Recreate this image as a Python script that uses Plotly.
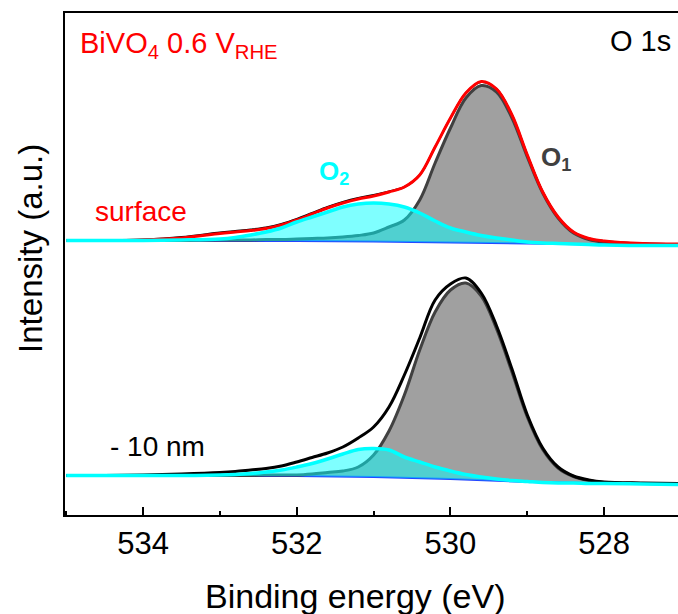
import plotly.graph_objects as go

# ---- data (binding energy in eV, intensity in a.u.) ----
energy = [535.0, 534.5, 534.0, 533.5, 533.0, 532.8, 532.6, 532.4, 532.2, 532.0,
          531.8, 531.6, 531.4, 531.2, 531.0, 530.8, 530.6, 530.4, 530.2, 530.0,
          529.8, 529.6, 529.4, 529.2, 529.0, 528.8, 528.6, 528.4, 528.2, 528.0,
          527.5, 527.0]

# surface spectrum (offset upward)
surface_raw = [274.5, 274.5, 275.5, 278, 282.5, 284, 285.5, 287.5, 291, 296,
               302, 308, 313, 317, 320, 323.5, 328, 340, 368, 397,
               422, 433, 426, 400, 360, 323, 298, 283, 276.5, 274,
               271.5, 271]
surface_envelope = [274.5, 274.5, 275, 277, 281.5, 283, 284.5, 286.5, 290, 295,
                    301, 307, 312, 316, 319, 323, 328, 340, 368, 397,
                    422, 433.5, 426, 400, 360, 323, 298, 283, 276.5, 274,
                    271.5, 271]
surface_o1 = [274.5, 274.5, 274.5, 274.5, 275, 275, 275, 275.5, 275.5, 276,
              276.5, 277, 278, 279.5, 282, 288, 295, 315, 352, 387,
              417, 429.5, 423, 397, 358, 322, 297, 282, 275.5, 273,
              271, 270.5]
surface_o2 = [274.5, 274.5, 274.5, 275, 276, 277.5, 280, 283, 287, 293,
              298, 303, 308, 311, 312, 311, 308, 302, 294, 287,
              283, 279.5, 277, 275, 273, 272, 271.5, 271, 270.5, 270,
              269.5, 269.5]

# -10 nm spectrum
depth_envelope = [39.5, 39.5, 40, 41, 42.5, 43.5, 45, 46.5, 49, 53,
                  57.5, 62, 68, 77, 88, 108, 140, 177, 215, 231,
                  237, 222, 189, 146, 100, 67, 48, 39, 35, 33,
                  32, 31.5]
depth_o1 = [39.5, 39.5, 39.5, 39.5, 39.5, 39.5, 39.5, 40, 40, 40,
            41, 42.5, 44, 48, 60, 84, 120, 165, 203, 225,
            232, 219, 186, 143, 98, 65.5, 47, 38.5, 34.5, 32.5,
            31.5, 31]
depth_o2 = [39.5, 39.5, 39.5, 39.5, 40, 40.5, 41.5, 43, 45, 48,
            51.5, 56, 61, 65.5, 66.5, 65, 58, 53, 48, 44,
            40.5, 38, 36, 34.5, 33.5, 32.5, 32, 32, 31.5, 31.5,
            31, 30.5]

background_energy = [535.0, 533.0, 532.0, 531.0, 530.0, 529.0, 528.0, 527.0]
surface_background = [274.5, 274.5, 274, 273.5, 272.5, 271, 270, 269.5]
depth_background = [39.5, 39.5, 39, 38, 36, 33, 31.5, 30.5]

x_ticks = [534, 532, 530, 528]
x_minor_ticks = [535, 533, 531, 529, 527]

FONT = "Liberation Sans, Arial, sans-serif"
RED = "#ff0000"
CYAN = "#00ffff"
GRAYFILL = "#a0a0a0"
GRAYLINE = "#404040"
BLUE = "#2446ff"

fig = go.Figure()


def add_panel(bg, o1, o2, envelope, env_color, raw=None):
    # background line (reference for fills)
    fig.add_trace(go.Scatter(x=background_energy, y=bg, mode="lines",
                             line=dict(color=BLUE, width=2), hoverinfo="skip"))
    fig.add_trace(go.Scatter(x=energy, y=o1, mode="lines", fill="tonexty",
                             fillcolor=GRAYFILL, line=dict(color=GRAYLINE, width=3, shape="spline"),
                             hoverinfo="skip"))
    fig.add_trace(go.Scatter(x=background_energy, y=bg, mode="lines",
                             line=dict(color="rgba(0,0,0,0)", width=0), hoverinfo="skip"))
    fig.add_trace(go.Scatter(x=energy, y=o2, mode="lines", fill="tonexty",
                             fillcolor="rgba(0,255,255,0.5)",
                             line=dict(color="rgba(0,0,0,0)", width=0, shape="spline"), hoverinfo="skip"))
    if raw is not None:
        fig.add_trace(go.Scatter(x=energy, y=raw, mode="lines",
                                 line=dict(color="#000000", width=2, shape="spline"), hoverinfo="skip"))
    fig.add_trace(go.Scatter(x=energy, y=envelope, mode="lines",
                             line=dict(color=env_color, width=3, shape="spline"), hoverinfo="skip"))
    # O2 component outline drawn on top
    fig.add_trace(go.Scatter(x=energy, y=o2, mode="lines",
                             line=dict(color=CYAN, width=3.5, shape="spline"), hoverinfo="skip"))


add_panel(surface_background, surface_o1, surface_o2, surface_envelope, RED, raw=surface_raw)
add_panel(depth_background, depth_o1, depth_o2, depth_envelope, "#000000")

annotations = [
    dict(x=534.85, y=470, xref="x", yref="y", xanchor="left", yanchor="middle",
         text="BiVO<sub>4</sub> 0.6 V<sub>RHE</sub>", font=dict(size=29, color=RED, family=FONT),
         showarrow=False),
    dict(x=527.106, y=474, xref="x", yref="y", xanchor="right", yanchor="middle",
         text="O 1s", font=dict(size=29, color="#000000", family=FONT), showarrow=False),
    dict(x=534.65, y=304, xref="x", yref="y", xanchor="left", yanchor="middle",
         text="surface", font=dict(size=28, color=RED, family=FONT), showarrow=False),
    dict(x=534.455, y=69, xref="x", yref="y", xanchor="left", yanchor="middle",
         text="- 10 nm", font=dict(size=28, color="#000000", family=FONT), showarrow=False),
    dict(x=531.737, y=343, xref="x", yref="y", xanchor="left", yanchor="middle",
         text="<b>O<sub>2</sub></b>", font=dict(size=26, color=CYAN, family=FONT), showarrow=False),
    dict(x=528.849, y=357, xref="x", yref="y", xanchor="left", yanchor="middle",
         text="<b>O<sub>1</sub></b>", font=dict(size=26, color=GRAYLINE, family=FONT), showarrow=False),
    dict(x=531.236, y=-0.161, xref="x", yref="paper", xanchor="center", yanchor="middle",
         text="Binding energy (eV)", font=dict(size=34, color="#000000", family=FONT), showarrow=False),
    dict(x=-0.0555, y=0.532, xref="paper", yref="paper", xanchor="center", yanchor="middle",
         text="Intensity (a.u.)", textangle=-90, font=dict(size=33, color="#000000", family=FONT),
         showarrow=False),
]

fig.update_layout(
    width=678, height=614,
    margin=dict(l=65, r=0, t=13, b=99),
    paper_bgcolor="white", plot_bgcolor="white",
    showlegend=False,
    annotations=annotations,
    xaxis=dict(range=[535.015, 527.04], tickmode="array", tickvals=x_ticks,
               ticks="inside", ticklen=8, tickwidth=1.5, tickcolor="#000000",
               minor=dict(ticks="inside", ticklen=4, tickwidth=1.5, tickmode="array",
                          tickvals=x_minor_ticks, tickcolor="#000000"),
               showline=True, linewidth=2, linecolor="#000000", mirror=True,
               showgrid=False, zeroline=False,
               tickfont=dict(size=31, color="#000000", family=FONT)),
    yaxis=dict(range=[0, 502], showticklabels=False, ticks="", showline=True,
               linewidth=2, linecolor="#000000", mirror=False,
               showgrid=False, zeroline=False),
)

fig.write_html("out.html")
